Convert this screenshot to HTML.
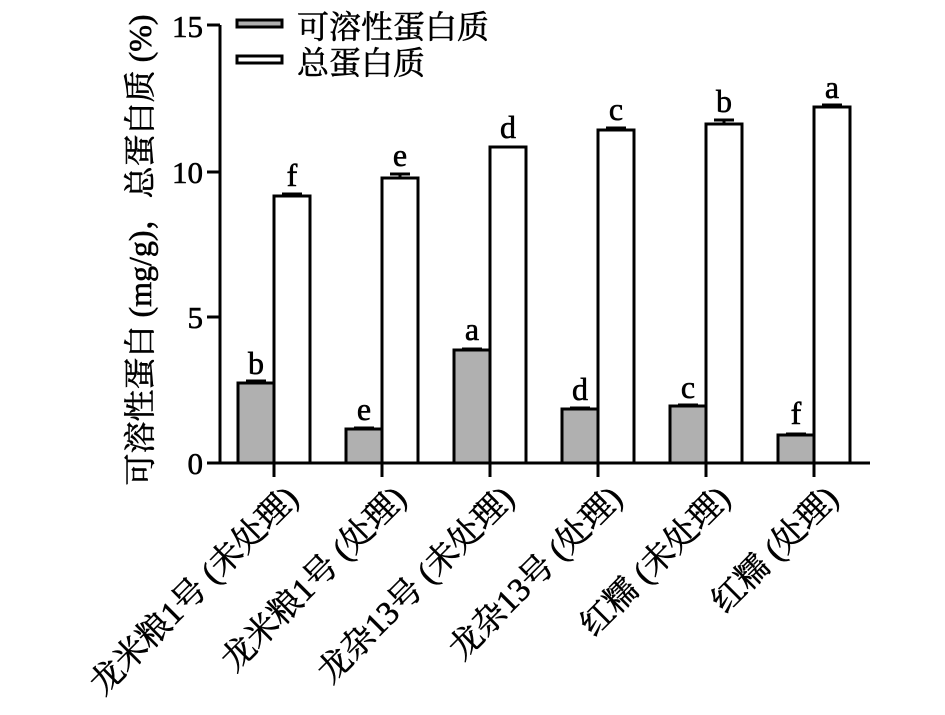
<!DOCTYPE html>
<html><head><meta charset="utf-8"><style>html,body{margin:0;padding:0;background:#fff}svg{display:block}text{font-family:"Liberation Serif","Noto Serif CJK SC",serif;fill:#000}</style></head>
<body>
<svg width="945" height="715" viewBox="0 0 945 715" xmlns="http://www.w3.org/2000/svg">
<g stroke="#000" stroke-width="3" fill="none">
<line x1="220" y1="25" x2="220" y2="464"/>
<line x1="219" y1="463" x2="870" y2="463"/>
<line x1="207" y1="25" x2="220" y2="25"/>
<line x1="207" y1="172" x2="220" y2="172"/>
<line x1="207" y1="317" x2="220" y2="317"/>
<line x1="207" y1="463" x2="220" y2="463"/>
<line x1="274" y1="463" x2="274" y2="477"/>
<line x1="382" y1="463" x2="382" y2="477"/>
<line x1="490" y1="463" x2="490" y2="477"/>
<line x1="598" y1="463" x2="598" y2="477"/>
<line x1="706" y1="463" x2="706" y2="477"/>
<line x1="814" y1="463" x2="814" y2="477"/>
</g>
<g font-size="31" text-anchor="end" stroke="#000" stroke-width="0.6">
<text x="203" y="37">15</text><text x="203" y="183">10</text><text x="203" y="328">5</text><text x="203" y="474">0</text>
</g>
<g stroke="#000" stroke-width="3">
<rect x="238" y="383" width="36" height="80" fill="#b0b0b0"/>
<rect x="274" y="196" width="36" height="267" fill="#fff"/>
<rect x="346" y="429" width="36" height="34" fill="#b0b0b0"/>
<rect x="382" y="178" width="36" height="285" fill="#fff"/>
<rect x="454" y="350" width="36" height="113" fill="#b0b0b0"/>
<rect x="490" y="147" width="36" height="316" fill="#fff"/>
<rect x="562" y="409" width="36" height="54" fill="#b0b0b0"/>
<rect x="598" y="130" width="36" height="333" fill="#fff"/>
<rect x="670" y="406" width="36" height="57" fill="#b0b0b0"/>
<rect x="706" y="124" width="36" height="339" fill="#fff"/>
<rect x="778" y="435" width="36" height="28" fill="#b0b0b0"/>
<rect x="814" y="107" width="36" height="356" fill="#fff"/>
<line x1="246" y1="381" x2="266" y2="381"/>
<line x1="282" y1="194" x2="302" y2="194"/>
<line x1="354" y1="428" x2="374" y2="428"/>
<line x1="390" y1="174" x2="410" y2="174"/><line x1="400" y1="174" x2="400" y2="178"/>
<line x1="462" y1="349" x2="482" y2="349"/>
<line x1="570" y1="408" x2="590" y2="408"/>
<line x1="606" y1="128" x2="626" y2="128"/>
<line x1="678" y1="405" x2="698" y2="405"/>
<line x1="714" y1="120" x2="734" y2="120"/><line x1="724" y1="120" x2="724" y2="124"/>
<line x1="786" y1="434" x2="806" y2="434"/>
<line x1="822" y1="105" x2="842" y2="105"/>
<rect x="237" y="20" width="45" height="7" fill="#b0b0b0"/>
<rect x="237" y="56" width="45" height="7" fill="#fff"/>
</g>
<g font-size="32" text-anchor="middle" stroke="#000" stroke-width="0.6">
<text x="256" y="374">b</text><text x="292" y="186">f</text>
<text x="364" y="420">e</text><text x="400" y="166">e</text>
<text x="472" y="340">a</text><text x="508" y="138">d</text>
<text x="580" y="400">d</text><text x="616" y="120">c</text>
<text x="688" y="398">c</text><text x="724" y="112">b</text>
<text x="796" y="424">f</text><text x="832" y="98">a</text>
</g>
<g font-size="32" stroke="#000" stroke-width="0.6">
<text x="297" y="38">可溶性蛋白质</text>
<text x="297" y="74">总蛋白质</text>
</g>
<text font-size="32" stroke="#000" stroke-width="0.6" text-anchor="middle" transform="translate(151,250) rotate(-90)">可溶性蛋白 (mg/g)，总蛋白质 (%)</text>
<g font-size="33" text-anchor="end" stroke="#000" stroke-width="0.6">
<text transform="translate(300,500) rotate(-45)">龙米粮1号 (未处理)</text>
<text transform="translate(408,500) rotate(-45)">龙米粮1号 (处理)</text>
<text transform="translate(516,500) rotate(-45)">龙杂13号 (未处理)</text>
<text transform="translate(624,500) rotate(-45)">龙杂13号 (处理)</text>
<text transform="translate(732,500) rotate(-45)">红糯 (未处理)</text>
<text transform="translate(840,500) rotate(-45)">红糯 (处理)</text>
</g>
</svg>
</body></html>
